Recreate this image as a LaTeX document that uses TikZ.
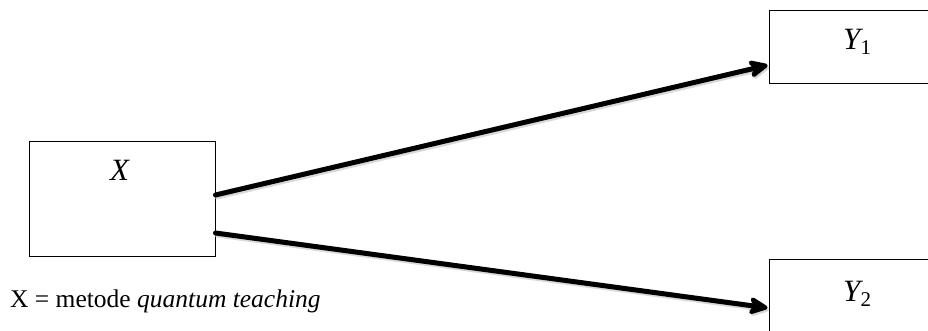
\documentclass[tikz,border=0pt]{standalone}
\usepackage{fontspec}
\setmainfont{Liberation Serif}
\usetikzlibrary{arrows.meta}
\begin{document}
\begin{tikzpicture}[x=1pt,y=1pt,
  box/.style={draw, line width=1pt, inner sep=0pt},
  mtxt/.style={font=\fontsize{31}{36}\selectfont, inner sep=0pt},
  conn/.style={line width=5pt, line cap=round, -{Stealth[length=24pt,width=22pt,inset=7pt,round]}, shorten >=1pt},
  shad/.style={conn, draw=black!25, opacity=0.6, transform canvas={xshift=1.5pt,yshift=-2pt}}]
\useasboundingbox (0,0) rectangle (928,331);
\clip (0,0) rectangle (928,331);
\node[box, minimum width=186pt, minimum height=115pt] (x) at (122,131.5) {};
\node[box, minimum width=166pt, minimum height=73pt] (y1) at (852,283.5) {};
\node[box, minimum width=166pt, minimum height=74pt] (y2) at (852,34) {};
\node[mtxt] (xt) at (120,161) {\textit{X}};
\node[mtxt, anchor=base west] (y1t) at (843,281) {\textit{Y}\kern-2.5pt\raisebox{-5pt}{\fontsize{21}{24}\selectfont 1}};
\node[mtxt, anchor=base west] (y2t) at (843,29) {\textit{Y}\kern-2.5pt\raisebox{-5pt}{\fontsize{21}{24}\selectfont 2}};
\node[anchor=base west, font=\fontsize{25.5}{30}\selectfont, inner sep=0pt] (lbl) at (10,23) {X = metode \textit{quantum teaching}};
\draw[shad] ([yshift=4.5pt]x.east) -- ([yshift=-17.5pt]y1.west);
\draw[shad] ([yshift=-33.5pt]x.east) -- ([yshift=-11pt]y2.west);
\draw[conn] ([yshift=4.5pt]x.east) -- ([yshift=-17.5pt]y1.west);
\draw[conn] ([yshift=-33.5pt]x.east) -- ([yshift=-11pt]y2.west);
\end{tikzpicture}
\end{document}
